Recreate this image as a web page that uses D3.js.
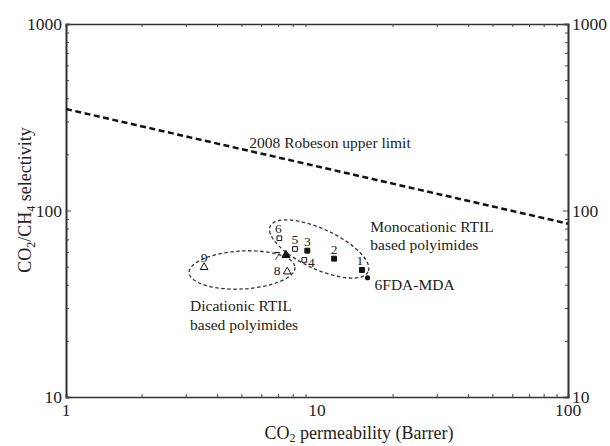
<!DOCTYPE html>
<html>
<head>
<meta charset="utf-8">
<script src="https://cdn.jsdelivr.net/npm/d3@7"></script>
<style>
  body { margin: 0; background: #fff; }
</style>
</head>
<body>
<svg id="chart" width="610" height="446" font-family="'Liberation Serif', 'Times New Roman', 'DejaVu Serif', serif"></svg>
<script>
// polymer data
const ids        = ["1", "2", "3", "4", "5", "6", "7", "8", "9"];
const perm       = [15.1, 11.7, 9.15, 8.9, 8.17, 7.08, 7.52, 7.61, 3.55];
const selectivity= [48.0, 55.2, 60.9, 54.3, 62.2, 71.0, 57.7, 47.0, 49.6];
const markers    = ["sqFill", "sqFill", "sqFill", "sqOpen", "sqOpen", "sqOpen", "triFill", "triOpen", "triOpen"];

const refName = "6FDA-MDA";
const refPerm = 15.9;
const refSel  = 43.6;

// 2008 Robeson upper limit end points
const robesonPerm = [1, 100];
const robesonSel  = [350, 85];

const xTicks = [1, 10, 100];
const yTicks = [10, 100, 1000];

const svg = d3.select("#chart");
const x = d3.scaleLog().domain([1, 100]).range([66, 568]);
const y = d3.scaleLog().domain([10, 1000]).range([397, 24]);

// label offsets for point numbers
const labelOff = {
  "1": [-2, -9], "2": [0, -9], "3": [0, -9], "4": [7, 3], "5": [0, -9],
  "6": [-1, -10], "7": [-9, 0], "8": [-10, -1], "9": [0, -10]
};

// axes: minor ticks all round, major a bit longer
const minor = d3.range(1, 3).flatMap(e => d3.range(2, 10).map(k => k * Math.pow(10, e - 1)));
const minorY = d3.range(1, 3).flatMap(e => d3.range(2, 10).map(k => k * Math.pow(10, e)));

function addAxis(gen, scale, vals, size, tr) {
  svg.append("g")
    .attr("transform", tr)
    .call(gen(scale).tickValues(vals).tickSize(size).tickFormat(""))
    .call(g => g.selectAll("line").attr("stroke", "#444").attr("stroke-width", 1))
    .call(g => g.select(".domain").attr("stroke", "#333").attr("stroke-width", 1.6));
}
addAxis(d3.axisBottom, x, minor, -3, "translate(0,397)");
addAxis(d3.axisTop, x, minor, -3, "translate(0,24)");
addAxis(d3.axisLeft, y, minorY, -3, "translate(66,0)");
addAxis(d3.axisRight, y, minorY, -3, "translate(568,0)");
addAxis(d3.axisLeft, y, yTicks, -5, "translate(66,0)");
addAxis(d3.axisRight, y, yTicks, -5, "translate(568,0)");

const ink = "#222";

// tick labels
svg.append("g").selectAll("text").data(xTicks).join("text")
  .attr("x", d => x(d)).attr("y", 416)
  .attr("text-anchor", "middle").attr("font-size", 17.5).attr("fill", ink)
  .text(d => d);
svg.append("g").selectAll("text").data(yTicks).join("text")
  .attr("x", 62).attr("y", d => y(d) + 6)
  .attr("text-anchor", "end").attr("font-size", 17.5).attr("fill", ink)
  .text(d => d);
svg.append("g").selectAll("text").data(yTicks).join("text")
  .attr("x", 572).attr("y", d => y(d) + 6)
  .attr("text-anchor", "start").attr("font-size", 17.5).attr("fill", ink)
  .text(d => d);

// axis titles
const xt = svg.append("text").attr("x", 359).attr("y", 439)
  .attr("text-anchor", "middle").attr("font-size", 18).attr("fill", ink);
xt.append("tspan").text("CO");
xt.append("tspan").attr("font-size", 12).attr("dy", 3).text("2");
xt.append("tspan").attr("dy", -3).text(" permeability (Barrer)");

const yt = svg.append("text").attr("transform", "translate(31,200) rotate(-90)")
  .attr("text-anchor", "middle").attr("font-size", 18).attr("fill", ink);
yt.append("tspan").text("CO");
yt.append("tspan").attr("font-size", 12).attr("dy", 4).text("2");
yt.append("tspan").attr("dy", -4).text("/CH");
yt.append("tspan").attr("font-size", 12).attr("dy", 4).text("4");
yt.append("tspan").attr("dy", -4).text(" selectivity");

// Robeson line
svg.append("path")
  .datum(d3.zip(robesonPerm, robesonSel))
  .attr("d", d3.line().x(d => x(d[0])).y(d => y(d[1])))
  .attr("fill", "none").attr("stroke", "#111")
  .attr("stroke-width", 2.5).attr("stroke-dasharray", "6,3.5");
svg.append("text").attr("x", 330).attr("y", 148)
  .attr("text-anchor", "middle").attr("font-size", 15.5).attr("fill", ink)
  .text("2008 Robeson upper limit");

// grouping ellipses (centres in data units)
const groups = [
  { cx: 10.2, cy: 62.2, rx: 54, ry: 20, rot: 25 },
  { cx: 5.03, cy: 48.0, rx: 53, ry: 19, rot: -3 }
];
svg.append("g").selectAll("ellipse").data(groups).join("ellipse")
  .attr("transform", d => `translate(${x(d.cx)},${y(d.cy)}) rotate(${d.rot})`)
  .attr("rx", d => d.rx).attr("ry", d => d.ry)
  .attr("fill", "none").attr("stroke", "#333")
  .attr("stroke-width", 1.3).attr("stroke-dasharray", "3.5,2.5");

// points
const pts = ids.map((id, i) => ({ id, p: perm[i], s: selectivity[i], m: markers[i] }));
const sym = {
  sqFill: d3.symbol(d3.symbolSquare, 24),
  sqOpen: d3.symbol(d3.symbolSquare, 22),
  triFill: d3.symbol(d3.symbolTriangle, 30),
  triOpen: d3.symbol(d3.symbolTriangle, 26)
};
svg.append("g").selectAll("path").data(pts).join("path")
  .attr("transform", d => `translate(${x(d.p)},${y(d.s)})`)
  .attr("d", d => sym[d.m]())
  .attr("fill", d => d.m.endsWith("Fill") ? "#111" : "#fff")
  .attr("stroke", "#111").attr("stroke-width", 1);
svg.append("g").selectAll("text").data(pts).join("text")
  .attr("x", d => x(d.p) + labelOff[d.id][0])
  .attr("y", d => y(d.s) + labelOff[d.id][1] + 4.5)
  .attr("text-anchor", "middle").attr("font-size", 13.5).attr("fill", ink)
  .text(d => d.id);

svg.append("circle").attr("cx", x(refPerm)).attr("cy", y(refSel)).attr("r", 2.6).attr("fill", "#111");
svg.append("text").attr("x", x(refPerm) + 7).attr("y", y(refSel) + 12)
  .attr("font-size", 15.5).attr("fill", ink).text(refName);

// group captions (anchored in data units)
const cap = [
  { lines: ["Monocationic RTIL", "based polyimides"], p: 16.3, s: 76.7 },
  { lines: ["Dicationic RTIL", "based polyimides"], p: 3.12, s: 28.9 }
];
cap.forEach(c => {
  const t = svg.append("text").attr("font-size", 15.5).attr("fill", ink);
  c.lines.forEach((l, i) => t.append("tspan").attr("x", x(c.p)).attr("y", y(c.s) + i * 18.5).text(l));
});
</script>
</body>
</html>
